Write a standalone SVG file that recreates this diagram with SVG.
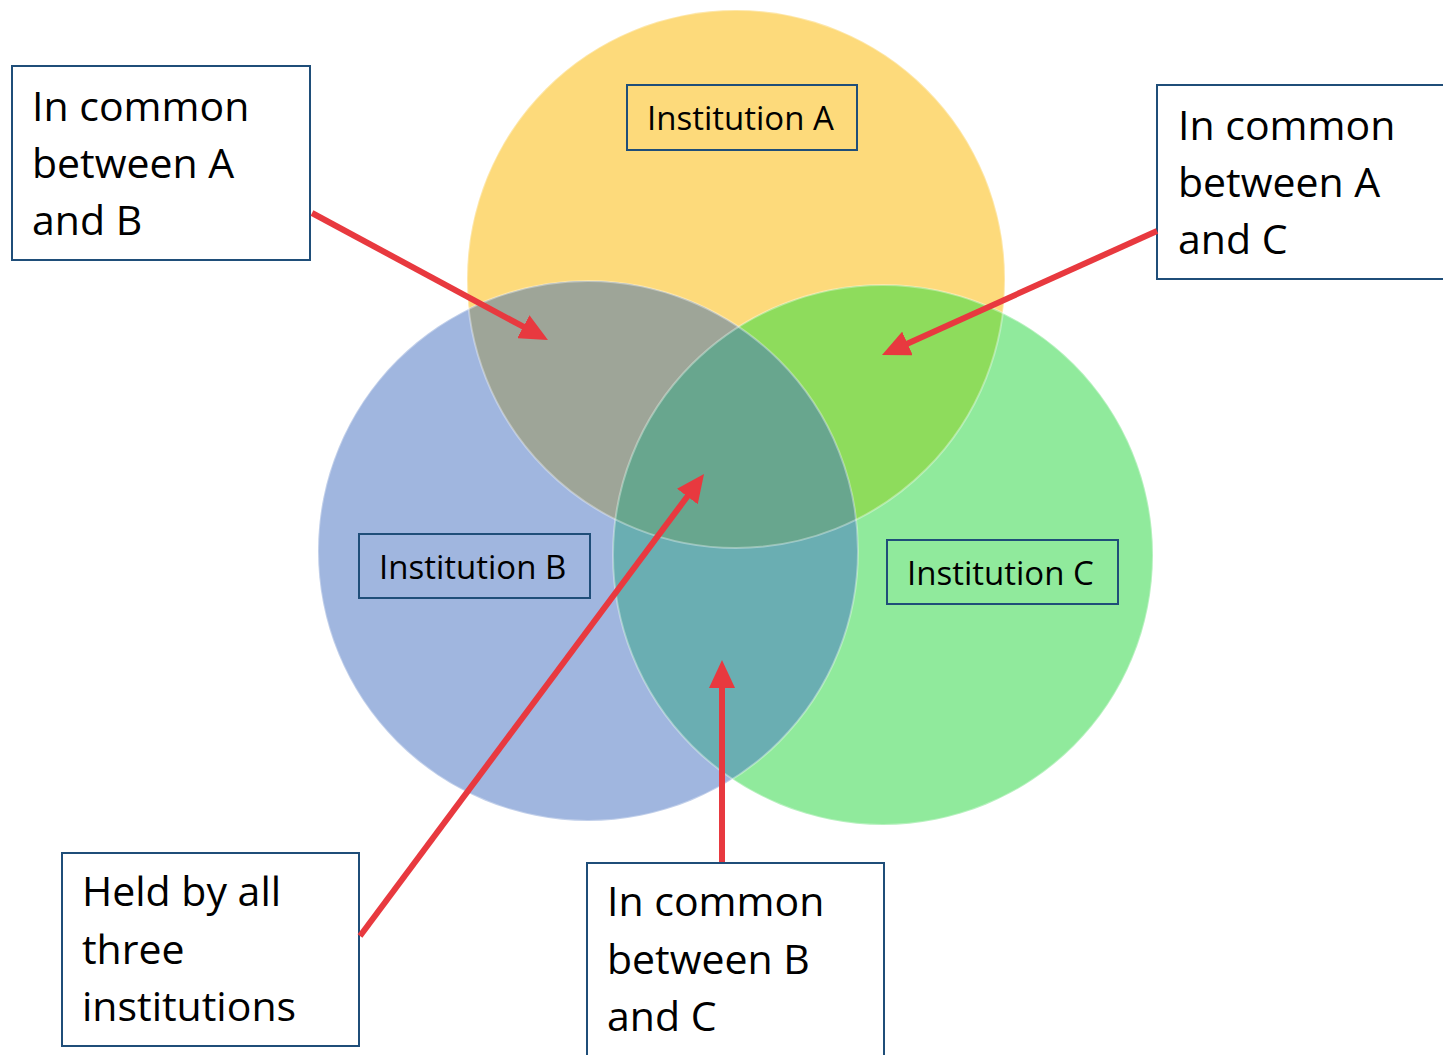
<svg xmlns="http://www.w3.org/2000/svg" width="1443" height="1055" viewBox="0 0 1443 1055">
<style>
.box{fill:#ffffff;stroke:#1f4e79;stroke-width:2}
.ibox{fill:none;stroke:#1f4e79;stroke-width:2}
.big{font-family:"Open Sans","Noto Sans",sans-serif;font-size:41px;fill:#000}
.lbl{font-family:"Open Sans","Noto Sans",sans-serif;font-size:33px;fill:#000}
.arr{stroke:#e8393f;stroke-width:6;fill:none;marker-end:url(#ah)}
.edge{fill:none;stroke:#ffffff;stroke-opacity:0.35;stroke-width:2}
</style>
<defs>
<marker id="ah" viewBox="-1 -13 28 26" refX="0" refY="0" markerWidth="28" markerHeight="26" markerUnits="userSpaceOnUse" orient="auto">
<path d="M-1,-13 L27,0 L-1,13 z" fill="#e8393f"/>
</marker>
<clipPath id="clipA"><circle cx="736" cy="279" r="269"/></clipPath>
<clipPath id="clipB"><circle cx="588" cy="551" r="270"/></clipPath>
</defs>
<rect width="1443" height="1055" fill="#ffffff"/>
<g id="venn">
<circle cx="736" cy="279" r="269" fill="#fdda7b"/>
<circle cx="588" cy="551" r="270" fill="#a0b6df"/>
<circle cx="883" cy="555" r="270" fill="#90ea9c"/>
<circle cx="588" cy="551" r="270" fill="#9ea598" clip-path="url(#clipA)"/>
<circle cx="883" cy="555" r="270" fill="#8edc5c" clip-path="url(#clipA)"/>
<circle cx="883" cy="555" r="270" fill="#6aaeb2" clip-path="url(#clipB)"/>
<g clip-path="url(#clipB)"><circle cx="883" cy="555" r="270" fill="#68a68e" clip-path="url(#clipA)"/></g>
<circle class="edge" cx="736" cy="279" r="269"/>
<circle class="edge" cx="588" cy="551" r="270"/>
<circle class="edge" cx="883" cy="555" r="270"/>
</g>
<g id="instA"><rect class="ibox" x="627" y="85" width="230" height="65"/><text class="lbl" x="647" y="130">Institution A</text></g>
<g id="instB"><rect class="ibox" x="359" y="534" width="231" height="64"/><text class="lbl" x="379" y="579">Institution B</text></g>
<g id="instC"><rect class="ibox" x="887" y="540" width="231" height="64"/><text class="lbl" x="907" y="585">Institution C</text></g>
<g id="noteAB"><rect class="box" x="12" y="66" width="298" height="194"/><text class="big" x="32" y="121">In common</text><text class="big" x="32" y="178">between A</text><text class="big" x="32" y="235">and B</text></g>
<g id="noteAC"><rect class="box" x="1157" y="85" width="300" height="194"/><text class="big" x="1178" y="140">In common</text><text class="big" x="1178" y="197">between A</text><text class="big" x="1178" y="254">and C</text></g>
<g id="noteAll"><rect class="box" x="62" y="853" width="297" height="193"/><text class="big" x="82" y="906">Held by all</text><text class="big" x="82" y="964">three</text><text class="big" x="82" y="1021">institutions</text></g>
<g id="noteBC"><rect class="box" x="587" y="863" width="297" height="200"/><text class="big" x="607" y="916">In common</text><text class="big" x="607" y="974">between B</text><text class="big" x="607" y="1031">and C</text></g>
<g id="connectors">
<line class="arr" x1="312" y1="213" x2="524.2" y2="327.2"/>
<line class="arr" x1="1157" y1="231" x2="906.6" y2="343.9"/>
<line class="arr" x1="360" y1="936" x2="687.9" y2="495.7"/>
<line class="arr" x1="722" y1="862" x2="722" y2="687"/>
</g>
</svg>
